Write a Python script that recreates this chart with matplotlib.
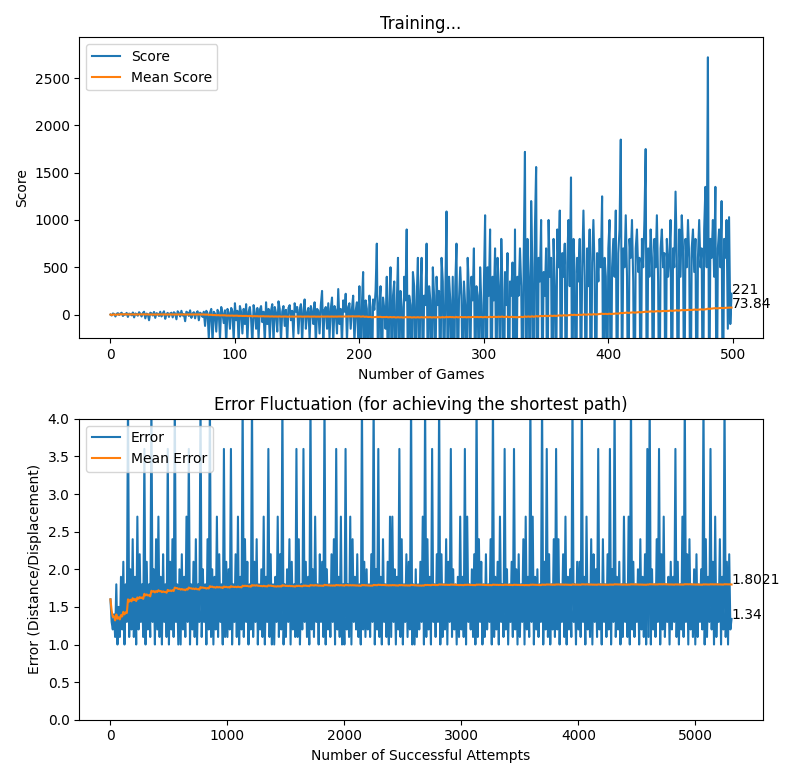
import numpy as np
import matplotlib.pyplot as plt

# Score per game
SCORES = [
    0, -10, 12, 5, -20, 8, 15, -5, 10, 20, -15, 5, 0, 18, -25, 10, 6, -8, 22, -30, 12, 4, -12, 25, 8,
    -20, 15, 30, -40, 10, 5, -60, 20, 12, -10, 28, -35, 15, 8, -15, 30, -20, 10, 35, -45, 5, 18, -25, 12, 20,
    -30, 25, 10, -50, 35, 15, -20, 40, -10, 5, -70, 30, 20, -15, 45, -35, 10, 25, -40, 15, 35, -60, 20, 8, -25,
    30, -120, 40, 15, -250, 20, 60, -300, 30, 10, -180, 50, 25, -260, 80, 15, -90, 45, -320, 60, 20, -150, 70, 35, -280,
    120, -60, 40, -300, 90, 25, -200, 60, -100, 110, -280, 30, 80, -50, -320, 100, 20, -150, 70, -260, 50, 90, -80, 30, -300,
    130, -100, 60, -250, 40, 110, -300, 80, 20, -180, 140, 60, -280, 30, 90, -120, 50, -300, 70, 100, -60, 40, -240, 120, 30,
    80, -200, 50, 110, -300, 40, 160, -150, 20, 70, -260, 90, 30, -100, 130, -320, 60, 40, -200, 100, 250, -280, 50, 80, -150,
    120, -250, 60, 180, -300, 90, 40, -200, 270, -100, 60, -320, 150, 30, 220, -280, 80, 120, -150, 60, 200, -300, 40, 130, -250,
    300, -700, 100, 450, -900, 150, 60, -800, 200, 80, -950, 160, 50, 250, 750, -700, 100, 300, -850, 180, 60, -150, 400, -900, 120,
    500, -800, 200, 350, -950, 100, 600, -700, 250, 80, -900, 400, 150, 900, -800, 200, 100, -950, 450, 300, -700, 150, 600, -850, 250,
    600, -900, 200, 100, 750, -800, 300, 150, -950, 500, 200, -700, 400, 100, 250, -900, 600, 350, -800, 200, 1090, -900, 400, 150, -700,
    400, -850, 300, 750, -950, 150, 500, 200, -800, 350, 100, -900, 600, 250, -700, 400, 150, 700, -900, 300, 200, -800, 500, 100, -950,
    300, 1050, -1500, 500, 200, 900, -1300, 400, 150, 700, -950, 600, 300, -700, 800, 250, -1500, 450, 100, 650, -1500, 350, 200, 550, -1500,
    900, -1300, 400, 200, 700, 300, -950, 600, 1720, -1500, 800, 400, -1300, 1200, 500, -1500, 900, 1560, -1500, 600, 350, 1000, -950, 450, 200,
    700, -1500, 1000, 400, 600, -1300, 800, 300, -950, 900, 500, 1100, -1500, 650, 400, 750, -1500, 550, 1000, 300, 1450, -1300, 800, 450, -1500,
    600, 350, 800, -950, 500, 1100, 400, -1300, 700, 300, 900, -1500, 550, 1000, 450, -1500, 650, 350, 800, 500, 1250, -1500, 600, 400, -1300,
    700, 1000, -1500, 500, 800, 400, 1100, -1300, 650, 900, 1850, -950, 700, 500, 1050, 400, -1500, 800, 600, 1000, 350, -1500, 700, 900, 450,
    600, -1300, 800, 500, 1000, 1750, -1500, 700, 400, 900, 600, -1500, 800, 500, 1050, 350, -1500, 700, 900, 500, 650, -1300, 800, 400, 600,
    1000, -1500, 700, 500, 1300, 600, -1500, 900, 400, 1050, 700, -1300, 800, 500, 1000, 600, -1500, 700, 900, 450, 800, -1500, 600, 1000, 500,
    700, -1500, 900, 1350, 500, 2720, -1300, 800, 600, 1000, 400, 1350, -1500, 700, 900, 500, 1200, -1500, 800, 600, 1000, -150, 1030, -100, 221,
]

# Error per successful attempt (sampled every ~10 attempts)
ERRORS = [
    1.6, 1.3, 1.2, 1.4, 1.1, 1.8, 1.0, 1.5, 1.1, 1.9, 1.2, 2.1, 1.0, 1.8, 1.3, 4.3, 1.1, 2.0, 1.2, 2.4,
    1.1, 1.9, 1.0, 2.7, 1.2, 2.2, 1.3, 1.8, 1.1, 3.6, 1.0, 2.1, 1.2, 1.8, 1.1, 4.3, 1.3, 2.0, 1.0, 2.4,
    1.2, 2.7, 1.1, 1.9, 1.0, 2.2, 1.3, 1.8, 1.1, 3.6, 1.0, 2.1, 1.2, 2.4, 1.1, 4.3, 1.3, 1.8, 1.0, 2.0,
    1.0, 2.2, 1.2, 1.9, 1.1, 2.7, 1.3, 3.6, 1.0, 1.8, 1.2, 2.1, 1.1, 2.4, 1.0, 1.8, 1.3, 4.3, 1.1, 2.0,
    1.3, 1.8, 1.0, 2.4, 1.2, 4.3, 1.1, 2.0, 1.0, 1.9, 1.2, 2.7, 1.1, 2.2, 1.3, 1.8, 1.0, 3.6, 1.1, 2.1,
    1.1, 2.0, 1.2, 3.6, 1.0, 1.8, 1.3, 2.2, 1.1, 2.7, 1.0, 1.9, 1.2, 4.3, 1.1, 2.4, 1.3, 2.1, 1.0, 1.8,
    1.2, 4.3, 1.1, 2.1, 1.3, 2.4, 1.0, 1.8, 1.2, 2.0, 1.1, 2.7, 1.0, 1.9, 1.3, 3.6, 1.1, 2.2, 1.0, 1.8,
    1.0, 1.9, 1.3, 2.7, 1.1, 2.2, 1.2, 4.3, 1.0, 1.8, 1.1, 2.0, 1.3, 2.4, 1.0, 2.1, 1.2, 1.8, 1.1, 3.6,
    1.1, 2.4, 1.0, 1.8, 1.2, 3.6, 1.3, 2.1, 1.1, 1.9, 1.0, 4.3, 1.2, 2.0, 1.1, 2.7, 1.3, 1.8, 1.0, 2.2,
    1.3, 2.1, 1.1, 4.3, 1.0, 2.0, 1.2, 1.8, 1.1, 2.2, 1.3, 2.4, 1.0, 3.6, 1.2, 1.9, 1.1, 2.7, 1.0, 1.8,
    1.0, 3.6, 1.2, 1.8, 1.1, 2.7, 1.0, 2.4, 1.3, 1.9, 1.2, 2.2, 1.1, 1.8, 1.0, 4.3, 1.2, 2.1, 1.1, 2.0,
    1.2, 1.8, 1.1, 2.2, 1.3, 4.3, 1.0, 2.0, 1.2, 3.6, 1.1, 1.9, 1.0, 2.4, 1.3, 1.8, 1.1, 2.1, 1.0, 2.7,
    1.1, 2.7, 1.3, 2.0, 1.0, 1.9, 1.2, 3.6, 1.1, 2.4, 1.0, 1.8, 1.3, 2.2, 1.1, 2.1, 1.2, 4.3, 1.0, 1.8,
    1.0, 2.0, 1.1, 1.8, 1.2, 2.1, 1.3, 2.7, 1.0, 4.3, 1.1, 2.4, 1.2, 1.9, 1.0, 3.6, 1.3, 1.8, 1.1, 2.2,
    1.3, 4.3, 1.0, 2.2, 1.1, 1.8, 1.2, 2.4, 1.0, 2.1, 1.3, 3.6, 1.1, 2.0, 1.2, 1.8, 1.0, 1.9, 1.1, 2.7,
    1.2, 1.9, 1.1, 3.6, 1.0, 2.7, 1.3, 1.8, 1.2, 2.0, 1.1, 2.2, 1.0, 4.3, 1.1, 2.4, 1.3, 2.1, 1.0, 1.8,
    1.1, 2.2, 1.2, 1.8, 1.3, 2.4, 1.0, 4.3, 1.1, 1.9, 1.2, 2.1, 1.0, 2.7, 1.3, 1.8, 1.1, 3.6, 1.2, 2.0,
    1.0, 1.8, 1.3, 2.1, 1.1, 3.6, 1.2, 2.0, 1.0, 2.2, 1.1, 1.8, 1.3, 2.4, 1.0, 2.7, 1.2, 1.9, 1.1, 4.3,
    1.3, 2.7, 1.0, 1.9, 1.2, 2.0, 1.1, 1.8, 1.3, 4.3, 1.0, 2.1, 1.2, 3.6, 1.1, 2.2, 1.0, 1.8, 1.2, 2.4,
    1.1, 3.6, 1.2, 2.4, 1.0, 1.8, 1.3, 2.2, 1.1, 2.7, 1.0, 1.9, 1.2, 2.0, 1.1, 4.3, 1.3, 1.8, 1.0, 2.1,
    1.2, 2.1, 1.1, 4.3, 1.3, 1.9, 1.0, 2.7, 1.2, 1.8, 1.1, 2.4, 1.0, 2.2, 1.3, 2.0, 1.1, 3.6, 1.2, 1.8,
    1.0, 2.4, 1.3, 1.8, 1.1, 2.2, 1.2, 3.6, 1.0, 2.0, 1.3, 4.3, 1.1, 1.9, 1.2, 2.1, 1.0, 1.8, 1.1, 2.7,
    1.3, 1.8, 1.1, 2.7, 1.0, 4.3, 1.2, 2.1, 1.1, 1.8, 1.3, 2.0, 1.0, 2.4, 1.2, 1.9, 1.1, 2.2, 1.0, 3.6,
    1.1, 4.3, 1.0, 2.0, 1.2, 1.8, 1.1, 2.4, 1.3, 3.6, 1.0, 2.2, 1.2, 2.7, 1.1, 1.8, 1.3, 1.9, 1.0, 2.1,
    1.2, 1.9, 1.3, 3.6, 1.1, 2.1, 1.0, 1.8, 1.2, 2.7, 1.1, 4.3, 1.3, 2.2, 1.0, 2.4, 1.2, 1.8, 1.1, 2.0,
    1.0, 2.2, 1.1, 1.8, 1.3, 2.0, 1.2, 4.3, 1.0, 2.4, 1.1, 1.9, 1.3, 3.6, 1.2, 2.1, 1.0, 2.7, 1.1, 1.8,
    1.3, 2.4, 1.0, 1.9, 1.2, 4.3, 1.1, 2.1, 1.0, 2.2, 1.2, 1.34,
]


def cumulative_mean(values):
    values = np.asarray(values, dtype=float)
    return np.cumsum(values) / np.arange(1, len(values) + 1)


def plot_training(ax, scores):
    mean_scores = cumulative_mean(scores)
    ax.set_title('Training...')
    ax.set_xlabel('Number of Games')
    ax.set_ylabel('Score')
    ax.plot(scores, label='Score')
    ax.plot(mean_scores, label='Mean Score')
    ax.set_ylim(bottom=-250)
    ax.text(len(scores) - 1, scores[-1], '221')
    ax.text(len(mean_scores) - 1, mean_scores[-1], '73.84')
    ax.legend(loc='upper left')


def plot_errors(ax, errors):
    x = np.linspace(0, 5310, len(errors))
    mean_errors = cumulative_mean(errors)
    ax.set_title('Error Fluctuation (for achieving the shortest path)')
    ax.set_xlabel('Number of Successful Attempts')
    ax.set_ylabel('Error (Distance/Displacement)')
    ax.plot(x, errors, label='Error')
    ax.plot(x, mean_errors, label='Mean Error')
    ax.set_ylim(0, 4)
    ax.text(x[-1], errors[-1], '1.34')
    ax.text(x[-1], mean_errors[-1], '1.8021')
    ax.legend(loc='upper left')


def main():
    fig, (ax1, ax2) = plt.subplots(2, 1, figsize=(7.98, 7.78))
    plot_training(ax1, SCORES)
    plot_errors(ax2, ERRORS)
    plt.tight_layout()
    plt.savefig('out.png', dpi=100)
    plt.close()


if __name__ == '__main__':
    main()
